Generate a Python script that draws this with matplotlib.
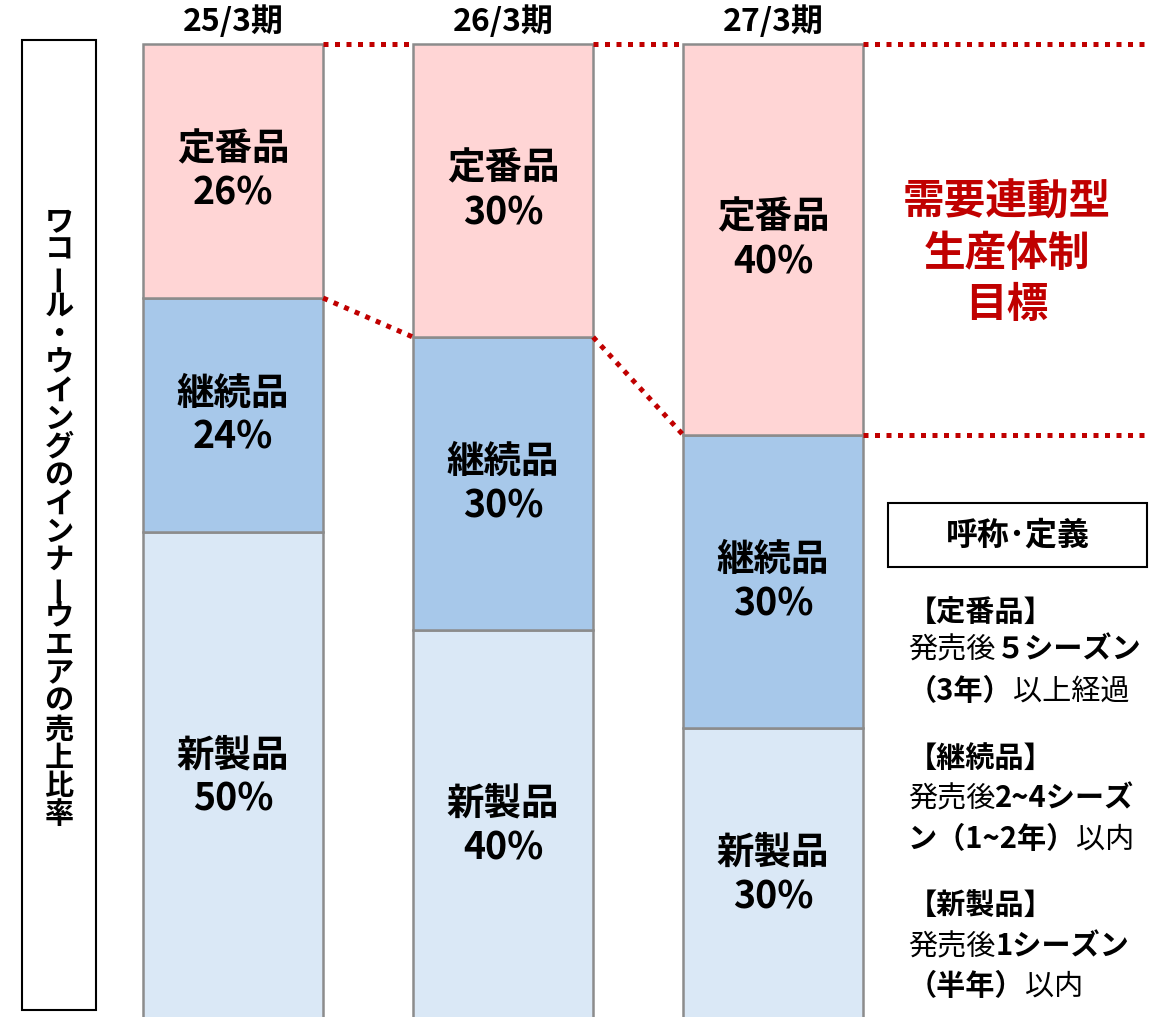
import matplotlib
matplotlib.use("Agg")
import matplotlib.pyplot as plt
from matplotlib.patches import Rectangle
import numpy as np

plt.rcParams["font.family"] = ["Noto Sans CJK JP", "DejaVu Sans"]

# ── データ ──────────────────────────────
periods = ["25/3期", "26/3期", "27/3期"]
categories = ["新製品", "継続品", "定番品"]
new_share = [50, 40, 30]     # 新製品
cont_share = [24, 30, 30]    # 継続品
std_share = [26, 30, 40]     # 定番品

side_title = "ワコール・ウイングのインナーウエアの売上比率"
goal_lines = ["需要連動型", "生産体制", "目標"]
def_lines = [
    [("【定番品】", "bold")],
    [("発売後", "normal"), ("５シーズン", "bold")],
    [("（3年）", "bold"), ("以上経過", "normal")],
    [("【継続品】", "bold")],
    [("発売後", "normal"), ("2~4シーズ", "bold")],
    [("ン（1~2年）", "bold"), ("以内", "normal")],
    [("【新製品】", "bold")],
    [("発売後", "normal"), ("1シーズン", "bold")],
    [("（半年）", "bold"), ("以内", "normal")],
]

colors = ["#DAE8F6", "#A7C8EA", "#FFD5D5"]
red = "#C00000"

W, H = 1173, 1017
fig = plt.figure(figsize=(W / 100, H / 100), dpi=100)
ax = fig.add_axes([0, 0, 1, 1])
ax.set_xlim(-0.863, 3.481)
ax.set_ylim(0.41, 104.5)   # 棒の下端は画像の外に切れる
ax.axis("off")


def fx(px):
    return px / W


def fy(py):
    return 1 - py / H


# ── 積み上げ棒 ──
x = np.arange(len(periods))
width = 0.667
bottom = np.zeros(len(periods))
for name, vals, c in zip(categories, [new_share, cont_share, std_share], colors):
    ax.bar(x, vals, width, bottom=bottom, color=c, edgecolor="#8C8C8C", linewidth=1.8)
    for xi, b, v in zip(x, bottom, vals):
        yc = b + v / 2
        ax.annotate(name, (xi, yc), xytext=(0, 16), textcoords="offset points",
                    ha="center", va="center", fontsize=27, weight="bold")
        ax.annotate(f"{v}%", (xi, yc), xytext=(0, -16), textcoords="offset points",
                    ha="center", va="center", fontsize=27, weight="bold")
    bottom += np.array(vals)

for xi, p in zip(x, periods):
    ax.annotate(p, (xi, 100), xytext=(0, 16), textcoords="offset points",
                ha="center", va="center", fontsize=23, weight="bold")

# ── 赤の点線 ──
std_base = 100 - np.array(std_share)
half = width / 2
dot = dict(color=red, lw=3.6, linestyle=(0, (1, 1.3)))
for i in range(len(x) - 1):
    ax.plot([x[i] + half, x[i + 1] - half], [100, 100], **dot)
    ax.plot([x[i] + half, x[i + 1] - half], [std_base[i], std_base[i + 1]], **dot)
ax.plot([x[-1] + half, 3.378], [100, 100], **dot)
ax.plot([x[-1] + half, 3.378], [std_base[-1], std_base[-1]], **dot)

for yc, s in zip([203, 254, 305], goal_lines):
    fig.text(fx(1007), fy(yc), s, ha="center", va="center", fontsize=30,
             weight="bold", color=red)

# ── 左の縦書きラベル ──
fig.patches.append(Rectangle((fx(22), fy(1010)), fx(96) - fx(22), fy(40) - fy(1010),
                             transform=fig.transFigure, fill=False,
                             edgecolor="black", linewidth=1.5))
ys = np.linspace(221, 814, len(side_title))
for ch, yc in zip(side_title, ys):
    fig.text(fx(59), fy(yc), ch, ha="center", va="center", fontsize=21,
             weight="bold", rotation=90 if ch == "ー" else 0)

# ── 呼称・定義 ──
fig.patches.append(Rectangle((fx(888), fy(567)), fx(1147) - fx(888), fy(503) - fy(567),
                             transform=fig.transFigure, fill=False,
                             edgecolor="black", linewidth=1.5))
fig.text(fx(1018), fy(536), "呼称･定義", ha="center", va="center",
         fontsize=23, weight="bold")

renderer = fig.canvas.get_renderer()
baselines = [622, 658, 700, 767, 807, 848, 915, 955, 995]
for yb, parts in zip(baselines, def_lines):
    xp = 908
    for s, w in parts:
        t = fig.text(fx(xp), fy(yb), s, ha="left", va="baseline", fontsize=21, weight=w)
        xp += t.get_window_extent(renderer).width

fig.savefig("out.png", dpi=100)
